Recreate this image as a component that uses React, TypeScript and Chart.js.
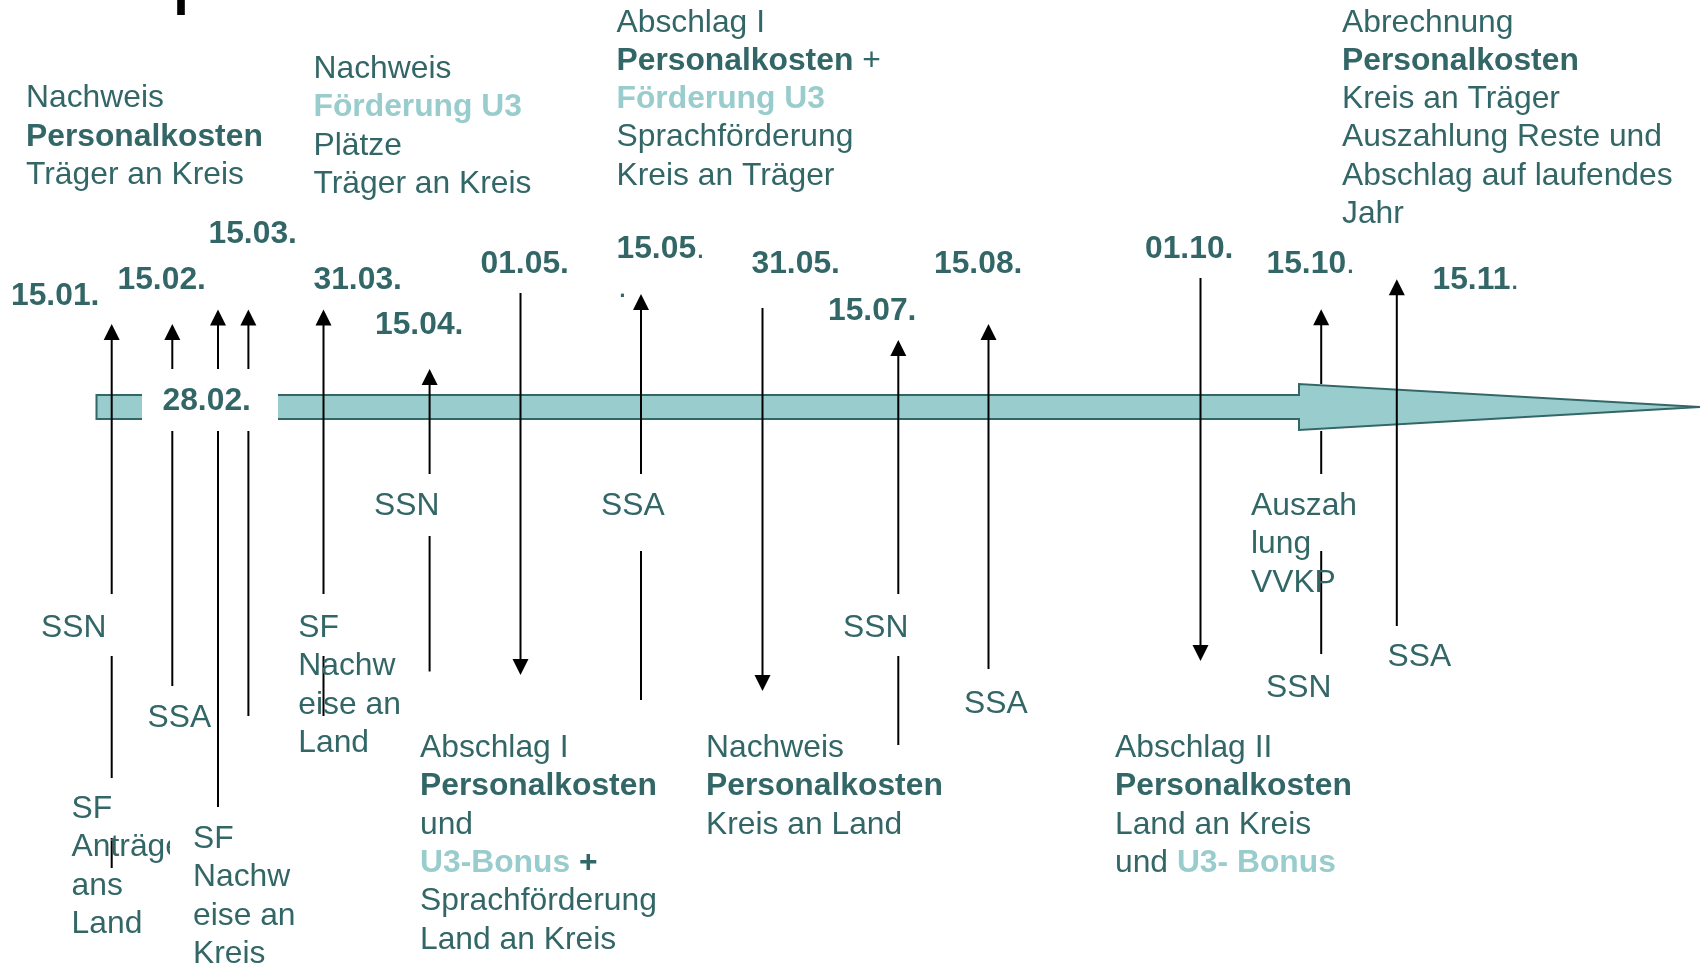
import React, { useEffect, useRef } from "react";
import { Chart, registerables } from "chart.js";

Chart.register(...registerables);

// ---------------- data ----------------
const dateLabels = ["15.01.", "15.02.", "15.03.", "31.03.", "15.04.", "01.05.", "15.05.", "31.05.", "15.07.", "15.08.", "01.10.", "15.10.", "15.11."];
const dateThinDot = [false, false, false, false, false, false, true, false, false, false, false, true, true];
const dateLabelX = [11, 117.5, 208.5, 313.5, 375, 480.5, 616.5, 751.5, 828, 934, 1145, 1266.5, 1432.5];
const dateLabelY = [305, 288.5, 243, 288.5, 334, 273, 258, 273, 320, 273, 258, 273, 288.5];

const boxLabel = "28.02.";
const boxLabelX = 162.5;
const boxLabelY = 410;

// arrows (one per deadline)
const arrowDates = ["15.01.", "15.02.", "15.03.", "15.03.", "31.03.", "15.04.", "01.05.", "15.05.", "31.05.", "15.07.", "15.08.", "01.10.", "15.10.", "15.11."];
const arrowUp = [true, true, true, true, true, true, false, true, false, true, true, false, true, true];
const arrowX = [111.7, 172.3, 218, 248.4, 323.5, 429.6, 520.5, 641, 762.5, 898.3, 988.5, 1200.5, 1321.2, 1396.8];
const arrowTop = [324, 324, 309.5, 309.5, 309.5, 369, 293, 294, 308, 340, 324, 278, 309.3, 279.3];
const arrowBottom = [868, 686, 807, 716, 716, 671.5, 675, 700, 691, 745, 669, 661, 654, 626];
const arrowGaps: number[][][] = [
  [[594, 656], [778, 838]],
  [],
  [],
  [],
  [[594, 656]],
  [[474, 536]],
  [],
  [[474, 551]],
  [],
  [[594, 656]],
  [],
  [],
  [[384, 431], [474, 551]],
  [],
];

// notes: lines of [style, text]; r = regular, b = bold, l = bold light
type Seg = [string, string];
const noteTexts: Seg[][][] = [
  [[["r", "Nachweis"]], [["b", "Personalkosten"]], [["r", "Träger an Kreis"]]],
  [[["r", "Nachweis"]], [["l", "Förderung U3"]], [["r", "Plätze"]], [["r", "Träger an Kreis"]]],
  [[["r", "Abschlag I"]], [["b", "Personalkosten"], ["r", " +"]], [["l", "Förderung U3"]], [["r", "Sprachförderung"]], [["r", "Kreis an Träger"]]],
  [[["r", "Abrechnung"]], [["b", "Personalkosten"]], [["r", "Kreis an Träger"]], [["r", "Auszahlung Reste und"]], [["r", "Abschlag auf laufendes"]], [["r", "Jahr"]]],
  [[["r", "SSN"]]],
  [[["r", "SSA"]]],
  [[["r", "SF"]], [["r", "Anträge"]], [["r", "ans"]], [["r", "Land"]]],
  [[["r", "SF"]], [["r", "Nachw"]], [["r", "eise an"]], [["r", "Kreis"]]],
  [[["r", "SF"]], [["r", "Nachw"]], [["r", "eise an"]], [["r", "Land"]]],
  [[["r", "SSN"]]],
  [[["r", "Abschlag I"]], [["b", "Personalkosten"]], [["r", "und"]], [["l", "U3-Bonus"], ["b", " +"]], [["r", "Sprachförderung"]], [["r", "Land an Kreis"]]],
  [[["r", "SSA"]]],
  [[["r", "."]]],
  [[["r", "Nachweis"]], [["b", "Personalkosten"]], [["r", "Kreis an Land"]]],
  [[["r", "SSN"]]],
  [[["r", "SSA"]]],
  [[["r", "Abschlag II"]], [["b", "Personalkosten"]], [["r", "Land an Kreis"]], [["r", "und "], ["l", "U3- Bonus"]]],
  [[["r", "Auszah"]], [["r", "lung"]], [["r", "VVKP"]]],
  [[["r", "SSN"]]],
  [[["r", "SSA"]]],
];
const noteX = [26, 313.5, 616.5, 1342, 41, 147.5, 71.6, 193, 298.3, 374, 420, 601, 618, 706, 843, 964, 1115, 1251, 1266, 1387.5];
const noteY = [107.4, 78, 31.5, 31.5, 637, 727, 818, 848, 637, 515, 757, 515, 297, 757, 637, 713, 757, 515, 696.5, 666];

// white-filled text box that hides the end of "Anträge" (drawn before note 7)
const maskBeforeNote = 7;
const maskRect = [170, 808, 192, 967];

// ---------------- layout / style ----------------
const W = 1701;
const H = 967;
const TEXT = "rgb(51,102,102)";
const LIGHT = "rgb(153,204,204)";
const FONT_SIZE = 31.8;
const LINE_H = 38.3;
const FAMILY = '"Liberation Sans", Arial, Helvetica, sans-serif';

const bandLeft = 96.5;
const bandTop = 395;
const bandBottom = 419;
const headStart = 1299;
const headTop = 384;
const headBottom = 430;
const tipX = 1700;
const tipY = 407;
const whiteBox = [142, 369, 278, 431];
const topMark = [177.2, 0, 184.8, 15];
const HEAD = 16;

function buildLineDatasets() {
  const sets: any[] = [];
  arrowX.forEach((x, i) => {
    let segs: number[][] = [[arrowTop[i], arrowBottom[i]]];
    arrowGaps[i].forEach(([g0, g1]) => {
      const next: number[][] = [];
      segs.forEach(([a, b]) => {
        if (g1 <= a || g0 >= b) next.push([a, b]);
        else {
          if (g0 > a) next.push([a, g0]);
          if (g1 < b) next.push([g1, b]);
        }
      });
      segs = next;
    });
    segs.forEach(([a, b]) => {
      const a2 = arrowUp[i] && a === arrowTop[i] ? a + HEAD * 0.6 : a;
      const b2 = !arrowUp[i] && b === arrowBottom[i] ? b - HEAD * 0.6 : b;
      sets.push({
        label: arrowDates[i],
        type: "line",
        data: [{ x, y: a2 }, { x, y: b2 }],
        borderColor: "#000",
        borderWidth: 2,
        pointRadius: 0,
        showLine: true,
        fill: false,
        tension: 0,
      });
    });
  });
  return sets;
}

const diagramPlugin = {
  id: "timelineDiagram",
  beforeDatasetsDraw(chart: any) {
    const ctx = chart.ctx;
    const px = (v: number) => chart.scales.x.getPixelForValue(v);
    const py = (v: number) => chart.scales.y.getPixelForValue(v);
    ctx.save();
    ctx.fillStyle = "#fff";
    ctx.fillRect(0, 0, chart.width, chart.height);
    // top mark
    ctx.fillStyle = "#000";
    ctx.fillRect(px(topMark[0]), py(topMark[1]), px(topMark[2]) - px(topMark[0]), py(topMark[3]) - py(topMark[1]));
    // band arrow
    ctx.beginPath();
    ctx.moveTo(px(bandLeft), py(bandTop));
    ctx.lineTo(px(headStart), py(bandTop));
    ctx.lineTo(px(headStart), py(headTop));
    ctx.lineTo(px(tipX), py(tipY));
    ctx.lineTo(px(headStart), py(headBottom));
    ctx.lineTo(px(headStart), py(bandBottom));
    ctx.lineTo(px(bandLeft), py(bandBottom));
    ctx.closePath();
    ctx.fillStyle = LIGHT;
    ctx.fill();
    ctx.lineWidth = 2;
    ctx.strokeStyle = TEXT;
    ctx.lineJoin = "miter";
    ctx.stroke();
    ctx.restore();
  },
  afterDatasetsDraw(chart: any) {
    const ctx = chart.ctx;
    const px = (v: number) => chart.scales.x.getPixelForValue(v);
    const py = (v: number) => chart.scales.y.getPixelForValue(v);
    ctx.save();
    // arrow heads
    ctx.fillStyle = "#000";
    arrowX.forEach((x, i) => {
      const cx = px(x);
      ctx.beginPath();
      if (arrowUp[i]) {
        const ty = py(arrowTop[i]);
        ctx.moveTo(cx, ty);
        ctx.lineTo(cx - HEAD / 2, ty + HEAD);
        ctx.lineTo(cx + HEAD / 2, ty + HEAD);
      } else {
        const ty = py(arrowBottom[i]);
        ctx.moveTo(cx, ty);
        ctx.lineTo(cx - HEAD / 2, ty - HEAD);
        ctx.lineTo(cx + HEAD / 2, ty - HEAD);
      }
      ctx.closePath();
      ctx.fill();
    });
    // white box for 28.02.
    ctx.fillStyle = "#fff";
    ctx.fillRect(px(whiteBox[0]), py(whiteBox[1]), px(whiteBox[2]) - px(whiteBox[0]), py(whiteBox[3]) - py(whiteBox[1]));

    ctx.textBaseline = "alphabetic";
    ctx.textAlign = "left";
    const fontFor = (s: string) => `${s === "r" ? "normal" : "bold"} ${FONT_SIZE}px ${FAMILY}`;

    // date labels
    const drawDate = (txt: string, thin: boolean, x: number, y: number) => {
      ctx.fillStyle = TEXT;
      const main = thin ? txt.slice(0, -1) : txt;
      ctx.font = fontFor("b");
      ctx.fillText(main, px(x), py(y));
      if (thin) {
        const w = ctx.measureText(main).width;
        ctx.font = fontFor("r");
        ctx.fillText(".", px(x) + w, py(y));
      }
    };
    dateLabels.forEach((d, i) => drawDate(d, dateThinDot[i], dateLabelX[i], dateLabelY[i]));
    drawDate(boxLabel, false, boxLabelX, boxLabelY);

    // notes
    noteTexts.forEach((lines, i) => {
      if (i === maskBeforeNote) {
        ctx.fillStyle = "#fff";
        ctx.fillRect(px(maskRect[0]), py(maskRect[1]), px(maskRect[2]) - px(maskRect[0]), py(maskRect[3]) - py(maskRect[1]));
      }
      lines.forEach((segs, li) => {
        let cx = px(noteX[i]);
        const cy = py(noteY[i] + li * LINE_H);
        segs.forEach(([st, t]) => {
          ctx.font = fontFor(st);
          ctx.fillStyle = st === "l" ? LIGHT : TEXT;
          ctx.fillText(t, cx, cy);
          cx += ctx.measureText(t).width;
        });
      });
    });
    ctx.restore();
  },
};

export default function App() {
  const ref = useRef<HTMLCanvasElement | null>(null);
  useEffect(() => {
    document.body.style.margin = "0";
    document.body.style.overflow = "hidden";
    if (!ref.current) return;
    const chart = new Chart(ref.current, {
      type: "scatter",
      data: { datasets: buildLineDatasets() },
      options: {
        animation: false,
        responsive: true,
        maintainAspectRatio: false,
        events: [],
        layout: { padding: 0 },
        plugins: { legend: { display: false }, tooltip: { enabled: false }, title: { display: false } },
        scales: {
          x: { type: "linear", min: 0, max: W, display: false },
          y: { type: "linear", min: 0, max: H, reverse: true, display: false },
        },
      },
      plugins: [diagramPlugin],
    } as any);
    return () => chart.destroy();
  }, []);
  return (
    <div style={{ width: W, height: H, position: "relative", background: "#fff" }}>
      <canvas ref={ref} />
    </div>
  );
}
